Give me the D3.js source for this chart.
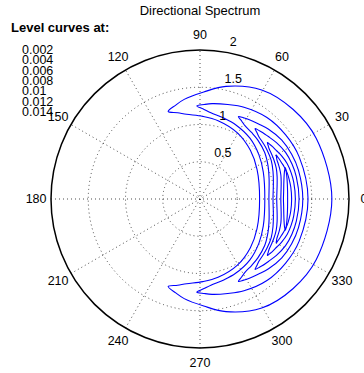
<!DOCTYPE html>
<html><head><meta charset="utf-8">
<script src="https://cdn.jsdelivr.net/npm/d3@7"></script>
<style>
body{margin:0;background:#fff}
svg{display:block}
text{font-family:"Liberation Sans",Arial,Helvetica,sans-serif;fill:#000}
</style>
</head><body>
<svg id="chart" width="364" height="373"></svg>
<script>
// ---------- data ----------
const chartTitle = "Directional Spectrum";
const legendTitle = "Level curves at:";
const levelLabels = ["0.002", "0.004", "0.006", "0.008", "0.01", "0.012", "0.014"];
const angleTicks = [0, 30, 60, 90, 120, 150, 180, 210, 240, 270, 300, 330];
const spokeAngles = [0, 30, 60, 90, 120, 150];
const radialTicks = [0.5, 1, 1.5, 2];
const radialMax = 2;

// contour lines (upper half; the spectrum is symmetric about 0 deg)
// angle in degrees, inner / outer radius of each crescent
const c002Angles = [0, 27.5, 44, 60.5, 77, 88, 99, 104.5, 110];
const c002Inner  = [0.80, 0.863, 0.94, 1.02, 1.079, 1.11, 1.151, 1.196, 1.25];
const c002Outer  = [1.77, 1.76, 1.734, 1.682, 1.552, 1.437, 1.354, 1.302, 1.25];

const c004Angles = [0, 23, 36.8, 50.6, 64.4, 73.6, 82.8, 87.4, 92];
const c004Inner  = [0.87, 0.923, 0.988, 1.056, 1.106, 1.132, 1.166, 1.204, 1.25];
const c004Outer  = [1.45, 1.446, 1.436, 1.416, 1.366, 1.322, 1.29, 1.27, 1.25];

const c006Angles = [0, 16.25, 26, 35.75, 45.5, 52, 58.5, 61.75, 65];
const c006Inner  = [0.925, 0.966, 1.016, 1.07, 1.108, 1.129, 1.155, 1.185, 1.22];
const c006Outer  = [1.38, 1.377, 1.369, 1.353, 1.313, 1.278, 1.252, 1.236, 1.22];

const c008Angles = [0, 13, 20.8, 28.6, 36.4, 41.6, 46.8, 49.4, 52];
const c008Inner  = [0.98, 1.011, 1.048, 1.088, 1.116, 1.132, 1.152, 1.174, 1.2];
const c008Outer  = [1.33, 1.327, 1.321, 1.308, 1.275, 1.247, 1.226, 1.213, 1.2];

const c010Angles = [0, 10, 16, 22, 28, 32, 36, 38, 40];
const c010Inner  = [1.03, 1.051, 1.077, 1.104, 1.123, 1.134, 1.147, 1.162, 1.18];
const c010Outer  = [1.28, 1.278, 1.273, 1.263, 1.238, 1.216, 1.2, 1.19, 1.18];

const c012Angles = [0, 7.5, 12, 16.5, 21, 24, 27, 28.5, 30];
const c012Inner  = [1.085, 1.098, 1.114, 1.132, 1.144, 1.151, 1.159, 1.169, 1.18];
const c012Outer  = [1.23, 1.229, 1.226, 1.222, 1.209, 1.198, 1.19, 1.185, 1.18];

const c014Angles = [0, 5, 10, 14, 17, 19, 20];
const c014Inner  = [1.12, 1.127, 1.142, 1.162, 1.183, 1.203, 1.22];
const c014Outer  = [1.176, 1.18, 1.19, 1.202, 1.212, 1.218, 1.22];

const contourAngles = [c002Angles, c004Angles, c006Angles, c008Angles, c010Angles, c012Angles, c014Angles];
const contourInner  = [c002Inner, c004Inner, c006Inner, c008Inner, c010Inner, c012Inner, c014Inner];
const contourOuter  = [c002Outer, c004Outer, c006Outer, c008Outer, c010Outer, c012Outer, c014Outer];

// ---------- drawing ----------
const W = 364, H = 373;
const cx = 200, cy = 199, R = 149;
const svg = d3.select("#chart");
const g = svg.append("g").attr("transform", `translate(${cx},${cy})`);

const rScale = d3.scaleLinear().domain([0, radialMax]).range([0, R]);
// math angle (deg, ccw from east) -> d3 radial angle (rad, cw from north)
const aScale = d3.scaleLinear().domain([0, 360]).range([Math.PI / 2, Math.PI / 2 - 2 * Math.PI]);
const px = (deg, r) => rScale(r) * Math.sin(aScale(deg));
const py = (deg, r) => -rScale(r) * Math.cos(aScale(deg));

const dotted = {stroke: "#000", "stroke-width": 0.7, "stroke-dasharray": "1,3", fill: "none"};

// spokes (through the center, from one side to the other)
g.selectAll("line.spoke").data(spokeAngles).join("line")
  .attr("class", "spoke")
  .attr("x1", d => px(d + 180, radialMax)).attr("y1", d => py(d + 180, radialMax))
  .attr("x2", d => px(d, radialMax)).attr("y2", d => py(d, radialMax))
  .each(function () { const s = d3.select(this); for (const k in dotted) s.attr(k, dotted[k]); });

// dotted rings
g.selectAll("circle.ring").data(radialTicks.filter(v => v < radialMax)).join("circle")
  .attr("class", "ring").attr("r", d => rScale(d))
  .each(function () { const s = d3.select(this); for (const k in dotted) s.attr(k, dotted[k]); });

// outer ring
g.append("circle").attr("r", rScale(radialMax))
  .attr("fill", "none").attr("stroke", "#000").attr("stroke-width", 1.5);

// contours
const line = d3.lineRadial()
  .angle(d => aScale(d[0]))
  .radius(d => rScale(d[1]))
  .curve(d3.curveCatmullRomClosed.alpha(0.5));

contourAngles.forEach((angs, i) => {
  const inner = contourInner[i], outer = contourOuter[i];
  const n = angs.length;
  const pts = [];
  pts.push([angs[n - 1], outer[n - 1]]);                   // upper tip
  for (let j = n - 2; j >= 0; j--) pts.push([angs[j], outer[j]]);
  for (let j = 1; j <= n - 2; j++) pts.push([-angs[j], outer[j]]);
  pts.push([-angs[n - 1], inner[n - 1]]);                  // lower tip
  for (let j = n - 2; j >= 1; j--) pts.push([-angs[j], inner[j]]);
  for (let j = 0; j <= n - 2; j++) pts.push([angs[j], inner[j]]);
  g.append("path").attr("d", line(pts))
    .attr("fill", "none").attr("stroke", "#0000ff").attr("stroke-width", 1.1);
});

// angle labels
g.selectAll("text.ang").data(angleTicks).join("text")
  .attr("class", "ang")
  .attr("x", d => px(d, radialMax * 1.1))
  .attr("y", d => py(d, radialMax * 1.1))
  .attr("text-anchor", "middle").attr("dominant-baseline", "central")
  .attr("font-size", 12.5)
  .text(d => d);

// radial labels
const c82 = Math.cos(82 * Math.PI / 180), s82 = Math.sin(82 * Math.PI / 180);
g.selectAll("text.rad").data(radialTicks).join("text")
  .attr("class", "rad")
  .attr("x", d => rScale(d) * c82 + 9)
  .attr("y", d => -rScale(d) * s82 - 5)
  .attr("text-anchor", "start")
  .attr("font-size", 12.5)
  .text(d => d);

// title
svg.append("text").attr("x", 200).attr("y", 15)
  .attr("text-anchor", "middle").attr("font-size", 13).text(chartTitle);

// legend
svg.append("text").attr("x", 11).attr("y", 32)
  .attr("font-size", 13).attr("font-weight", "bold").text(legendTitle);
svg.selectAll("text.lev").data(levelLabels).join("text")
  .attr("class", "lev")
  .attr("x", 22).attr("y", (d, i) => 54 + i * 10.3)
  .attr("font-size", 12.5).text(d => d);
</script>
</body></html>
